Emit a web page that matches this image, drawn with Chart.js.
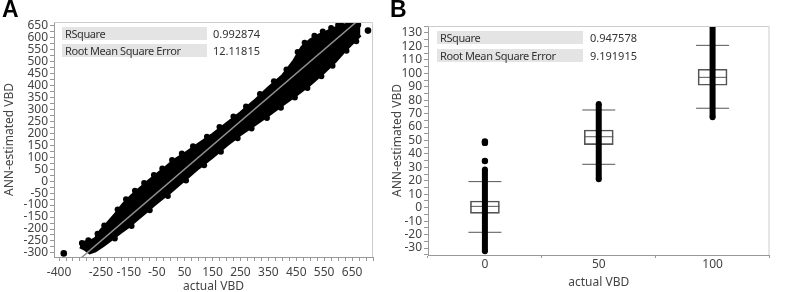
<!DOCTYPE html>
<html>
<head>
<meta charset="utf-8">
<script src="https://cdn.jsdelivr.net/npm/chart.js@4.4.1/dist/chart.umd.min.js"></script>
<style>
  body { margin: 0; background: #fff; width: 787px; height: 292px; overflow: hidden; position: relative; font-family: 'Noto Sans', sans-serif; }
  .panel { position: absolute; top: 0; }
  .tag { position: absolute; top: -4px; font: bold 23px 'Liberation Sans', Arial, sans-serif; color: #000; }
  .row { position: absolute; height: 13px; background: #e4e4e4; font-size: 11px; line-height: 13px; color: #333; padding-left: 3px; box-sizing: border-box; letter-spacing: -0.4px; }
  .val { position: absolute; font-size: 11px; line-height: 13px; color: #333; }
</style>
</head>
<body>
<div class="panel" style="left:0;width:385px;height:295px"><canvas id="chartA"></canvas></div>
<div class="panel" style="left:388px;width:399px;height:292px"><canvas id="chartB"></canvas></div>

<div class="tag" style="left:2px">A</div>
<div class="tag" style="left:390px">B</div>

<div class="row" style="left:62px;top:27px;width:145px">RSquare</div>
<div class="val" style="left:213px;top:27px">0.992874</div>
<div class="row" style="left:62px;top:44px;width:145px">Root Mean Square Error</div>
<div class="val" style="left:213px;top:44px">12.11815</div>

<div class="row" style="left:437px;top:31px;width:146px">RSquare</div>
<div class="val" style="left:590px;top:31px">0.947578</div>
<div class="row" style="left:437px;top:49px;width:146px">Root Mean Square Error</div>
<div class="val" style="left:590px;top:49px">9.191915</div>

<script>
// ---- panel A: ANN estimate vs actual ----
var xLabelsA = [-400, -250, -150, -50, 50, 150, 250, 350, 450, 550, 650];
var refLineX = [-340, 720];
var refLineY = [-340, 720];
// upper and lower edge of the dense point cloud
var upperX = [-325, -310, -290, -270, -250, -230, -200, -170, -140, -110, -80, -50, -20, 10, 50, 100, 150, 200, 250, 300, 350, 400, 440, 470, 500, 530, 560, 590, 620, 650, 680];
var upperY = [-268, -255, -252, -240, -205, -180, -140, -95, -60, -30, 0, 28, 55, 85, 115, 155, 195, 240, 285, 335, 390, 440, 500, 560, 590, 610, 625, 640, 652, 662, 672];
var lowerX = [-325, -310, -290, -270, -240, -210, -180, -150, -120, -90, -60, -30, 0, 30, 60, 100, 150, 200, 250, 300, 350, 400, 450, 500, 550, 590, 620, 650, 680];
var lowerY = [-275, -283, -300, -292, -268, -242, -215, -190, -160, -130, -100, -72, -45, -15, 15, 55, 100, 150, 195, 235, 275, 318, 360, 405, 455, 500, 540, 575, 610];
// single points sticking out of the cloud edges
var edgeX = [-318, -295, -262, -238, -190, -160, -128, -95, -60, -30, 5, 40, 80, 130, 175, 225, 270, 320, 370, 415, 455, 480, 515, 545, 575, 600, 610,
             -200, -140, -75, -10, 55, 120, 180, 240, 290, 345, 395, 445, 490, 540, 580, 630, 665];
var edgeY = [-258, -247, -220, -185, -118, -76, -40, -8, 26, 53, 88, 116, 146, 186, 226, 270, 312, 364, 417, 466, 540, 578, 608, 625, 640, 652, 656,
             -240, -187, -122, -62, 3, 66, 123, 179, 220, 264, 307, 349, 389, 438, 482, 545, 585];
var outX = [-383, 671, 707, 564];
var outY = [-302, 654, 629, 499];

// ---- panel B: by actual class ----
var catsB = ['0', '50', '100'];
var q1B = [-4.2, 46.9, 91.1];
var q3B = [5.0, 57.8, 103.0];
var medB = [1.0, 52.8, 97.0];
var whiskLoB = [-18.3, 32.3, 74.0];
var whiskHiB = [19.4, 72.7, 120.8];
var spreadLoB = [-32.5, 21.2, 67.3];
var spreadHiB = [28.5, 77.2, 137];
var outCatB = ['0', '0', '0'];
var outValB = [34.8, 48.2, 49.3];

var tickColor = '#444';
var fontFam = "'Noto Sans', sans-serif";

function pairs(xs, ys) {
  return xs.map(function (x, i) { return { x: x, y: ys[i] }; });
}

var framePlugin = {
  id: 'frame',
  afterDraw: function (chart) {
    var a = chart.chartArea, c = chart.ctx;
    c.save();
    c.strokeStyle = '#cccccc';
    c.lineWidth = 1;
    c.beginPath();
    c.moveTo(a.left, a.top + 0.5);
    c.lineTo(a.right - 0.5, a.top + 0.5);
    c.lineTo(a.right - 0.5, a.bottom);
    c.stroke();
    c.restore();
  }
};

var axisGrid = { drawOnChartArea: false, drawTicks: true, tickLength: 4, color: '#999' };
var axisBorder = { color: '#999' };
var dot = { pointRadius: 3, pointBorderWidth: 0, pointBackgroundColor: '#000', showLine: false };

new Chart(document.getElementById('chartA'), {
  type: 'scatter',
  data: {
    datasets: [
      { type: 'line', data: pairs(refLineX, refLineY), borderColor: '#8f8f8f', borderWidth: 1.5, pointRadius: 0, fill: false },
      Object.assign({ data: pairs(edgeX, edgeY) }, dot),
      Object.assign({ data: pairs(outX, outY) }, dot, { pointRadius: 3.3 }),
      { type: 'line', data: pairs(upperX, upperY), borderColor: '#000', backgroundColor: '#000', borderWidth: 3, pointRadius: 0, fill: '+1' },
      { type: 'line', data: pairs(lowerX, lowerY), borderColor: '#000', backgroundColor: '#000', borderWidth: 3, pointRadius: 0, fill: false }
    ]
  },
  options: {
    responsive: true,
    maintainAspectRatio: false,
    animation: false,
    devicePixelRatio: 1,
    events: [],
    layout: { padding: { top: 22, right: 12, left: 0, bottom: 0 } },
    plugins: { legend: { display: false }, tooltip: { enabled: false } },
    scales: {
      x: {
        type: 'linear', min: -418, max: 725,
        afterFit: function (s) { s.height = 38; },
        grid: axisGrid, border: axisBorder,
        ticks: {
          stepSize: 25, autoSkip: false, maxRotation: 0, includeBounds: false, padding: 4,
          color: tickColor, font: { family: fontFam, size: 12 },
          callback: function (v) { return xLabelsA.indexOf(v) >= 0 ? String(v) : ''; }
        },
        title: { display: true, text: 'actual VBD', color: tickColor, font: { family: fontFam, size: 12 }, padding: { top: 0, bottom: 1 } }
      },
      y: {
        type: 'linear', min: -317, max: 665,
        afterFit: function (s) { s.width = 54; },
        grid: axisGrid, border: axisBorder,
        ticks: {
          stepSize: 25, autoSkip: false, includeBounds: false, padding: 2,
          color: tickColor, font: { family: fontFam, size: 12 },
          callback: function (v) { return v % 50 === 0 ? String(v) : ''; }
        },
        title: { display: true, text: 'ANN-estimated VBD', color: tickColor, font: { family: fontFam, size: 12 }, padding: { top: 2, bottom: 0 } }
      }
    }
  },
  plugins: [framePlugin]
});

var datasetsB = [];
catsB.forEach(function (c, i) {
  datasetsB.push({
    type: 'line',
    data: [{ x: c, y: spreadLoB[i] }, { x: c, y: spreadHiB[i] }],
    borderColor: '#000', borderWidth: 6, pointRadius: 3, pointBorderWidth: 0,
    pointBackgroundColor: '#000', fill: false
  });
});
datasetsB.push({
  type: 'line', showLine: false,
  data: pairs(outCatB, outValB),
  pointRadius: 3.2, pointBorderWidth: 0, pointBackgroundColor: '#000'
});
datasetsB.push({
  type: 'line', showLine: false,
  data: pairs(catsB, medB).concat(pairs(catsB, whiskLoB), pairs(catsB, whiskHiB)),
  pointStyle: 'line', pointRadius: [14.5, 14.5, 14.5, 16.5, 16.5, 16.5, 16.5, 16.5, 16.5],
  pointBorderColor: '#555', pointBorderWidth: 1
});
datasetsB.push({
  type: 'bar',
  data: q1B.map(function (v, i) { return [v, q3B[i]]; }),
  backgroundColor: 'rgba(0,0,0,0)', borderColor: '#555', borderWidth: 1,
  borderSkipped: false, barThickness: 29
});

new Chart(document.getElementById('chartB'), {
  type: 'bar',
  data: { labels: catsB, datasets: datasetsB },
  options: {
    responsive: true,
    maintainAspectRatio: false,
    animation: false,
    devicePixelRatio: 1,
    events: [],
    layout: { padding: { top: 26, right: 1, left: 0, bottom: 0 } },
    plugins: { legend: { display: false }, tooltip: { enabled: false } },
    scales: {
      x: {
        type: 'category', offset: true,
        afterFit: function (s) { s.height = 37; },
        grid: { drawOnChartArea: false, drawTicks: true, tickLength: 3, color: '#999', offset: true },
        border: axisBorder,
        ticks: { color: tickColor, font: { family: fontFam, size: 12 }, padding: -1, maxRotation: 0 },
        title: { display: true, text: 'actual VBD', color: tickColor, font: { family: fontFam, size: 12 }, padding: { top: 0, bottom: 2 } }
      },
      y: {
        type: 'linear', min: -35.2, max: 135.2,
        afterFit: function (s) { s.width = 40; },
        grid: axisGrid, border: axisBorder,
        ticks: {
          stepSize: 5, autoSkip: false, includeBounds: false, padding: 2,
          color: tickColor, font: { family: fontFam, size: 12 },
          callback: function (v) { return v % 10 === 0 ? String(v) : ''; }
        },
        title: { display: true, text: 'ANN-estimated VBD', color: tickColor, font: { family: fontFam, size: 12 }, padding: { top: 2, bottom: 0 } }
      }
    }
  },
  plugins: [framePlugin]
});
</script>
</body>
</html>
